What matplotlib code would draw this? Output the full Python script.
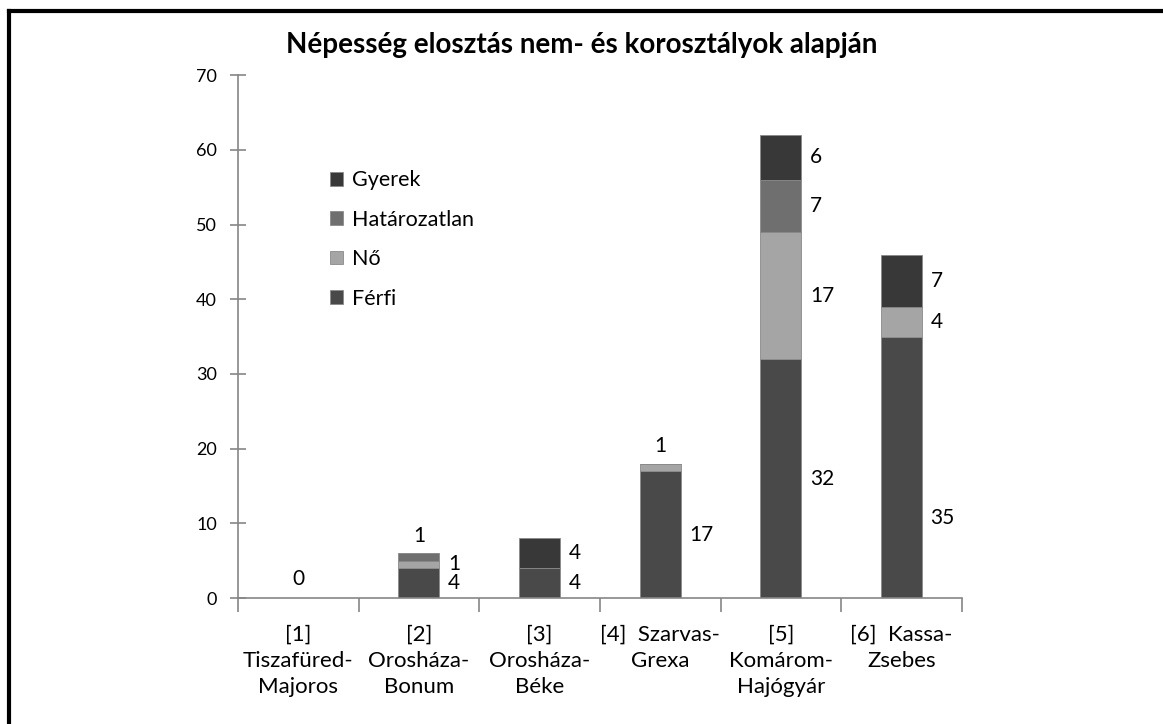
import matplotlib
matplotlib.use('Agg')
import matplotlib.pyplot as plt
from matplotlib.lines import Line2D
import numpy as np

plt.rcParams['font.family'] = ['Lato', 'DejaVu Sans']

categories = ["[1]\nTiszafüred-\nMajoros", "[2]\nOrosháza-\nBonum",
              "[3]\nOrosháza-\nBéke", "[4]  Szarvas-\nGrexa",
              "[5]\nKomárom-\nHajógyár", "[6]  Kassa-\nZsebes"]
series_names = ["Férfi", "Nő", "Határozatlan", "Gyerek"]
ferfi = [0, 4, 4, 17, 32, 35]
no = [0, 1, 0, 1, 17, 4]
hatarozatlan = [0, 1, 0, 0, 7, 0]
gyerek = [0, 0, 4, 0, 6, 7]
series = [ferfi, no, hatarozatlan, gyerek]
colors = ["#494949", "#a5a5a5", "#6f6f6f", "#383838"]

# labels that Excel put above the bar instead of beside it
labels_above = {(1, 2), (3, 1)}
label_y_override = {(5, 0): 10.7}

fig = plt.figure(figsize=(11.63, 7.24), dpi=100)
ax = fig.add_axes([0.2046, 0.174, 0.6225, 0.722])

x = np.arange(len(categories)) + 0.5
width = 0.34
bottom = np.zeros(len(categories))
for s, vals in enumerate(series):
    vals = np.array(vals, dtype=float)
    ax.bar(x, vals, width, bottom=bottom, color=colors[s],
           edgecolor="#8a8a8a", linewidth=0.6, label=series_names[s])
    for i, v in enumerate(vals):
        if v <= 0:
            continue
        if (i, s) in labels_above:
            ax.text(x[i], bottom[i] + v + 1.0, "%d" % v, ha='center',
                    va='bottom', fontsize=15)
        else:
            yy = label_y_override.get((i, s), bottom[i] + v / 2.0)
            ax.text(x[i] + width / 2 + 0.07, yy, "%d" % v, ha='left',
                    va='center', fontsize=15)
    bottom += vals

# zero label for the empty category
ax.text(x[0], 1.2, "0", ha='center', va='bottom', fontsize=15)

ax.set_xlim(0, 6)
ax.set_ylim(0, 70)
ax.set_yticks(np.arange(0, 71, 10))
ax.set_xticks(np.arange(0, 7))
ax.set_xticklabels([])
ax.set_xticks(x, minor=True)
ax.set_xticklabels(categories, minor=True, fontsize=16, linespacing=1.4)
ax.tick_params(axis='x', which='minor', length=0, pad=19)
ax.tick_params(axis='x', which='major', direction='out', length=10,
               color="#868686", width=1.2)
ax.tick_params(axis='y', direction='inout', length=12, color="#868686",
               width=1.2, labelsize=13, pad=9)
for side in ['top', 'right']:
    ax.spines[side].set_visible(False)
for side in ['left', 'bottom']:
    ax.spines[side].set_color("#868686")
    ax.spines[side].set_linewidth(1.2)

handles, labels = ax.get_legend_handles_labels()
ax.legend(handles[::-1], labels[::-1], loc='upper left',
          bbox_to_anchor=(0.101, 0.855), frameon=False, fontsize=15.5,
          handlelength=0.6, handleheight=0.6, labelspacing=0.9,
          handletextpad=0.4)

fig.text(0.5, 0.938, "Népesség elosztás nem- és korosztályok alapján",
         ha='center', va='center', fontsize=20, fontweight='bold')

# page border visible at top and left only
fig.add_artist(Line2D([0.008, 1.0], [0.985, 0.985], color='black',
                      linewidth=3, transform=fig.transFigure))
fig.add_artist(Line2D([0.008, 0.008], [0.0, 0.985], color='black',
                      linewidth=3, transform=fig.transFigure))

fig.savefig('out.png', dpi=100)
